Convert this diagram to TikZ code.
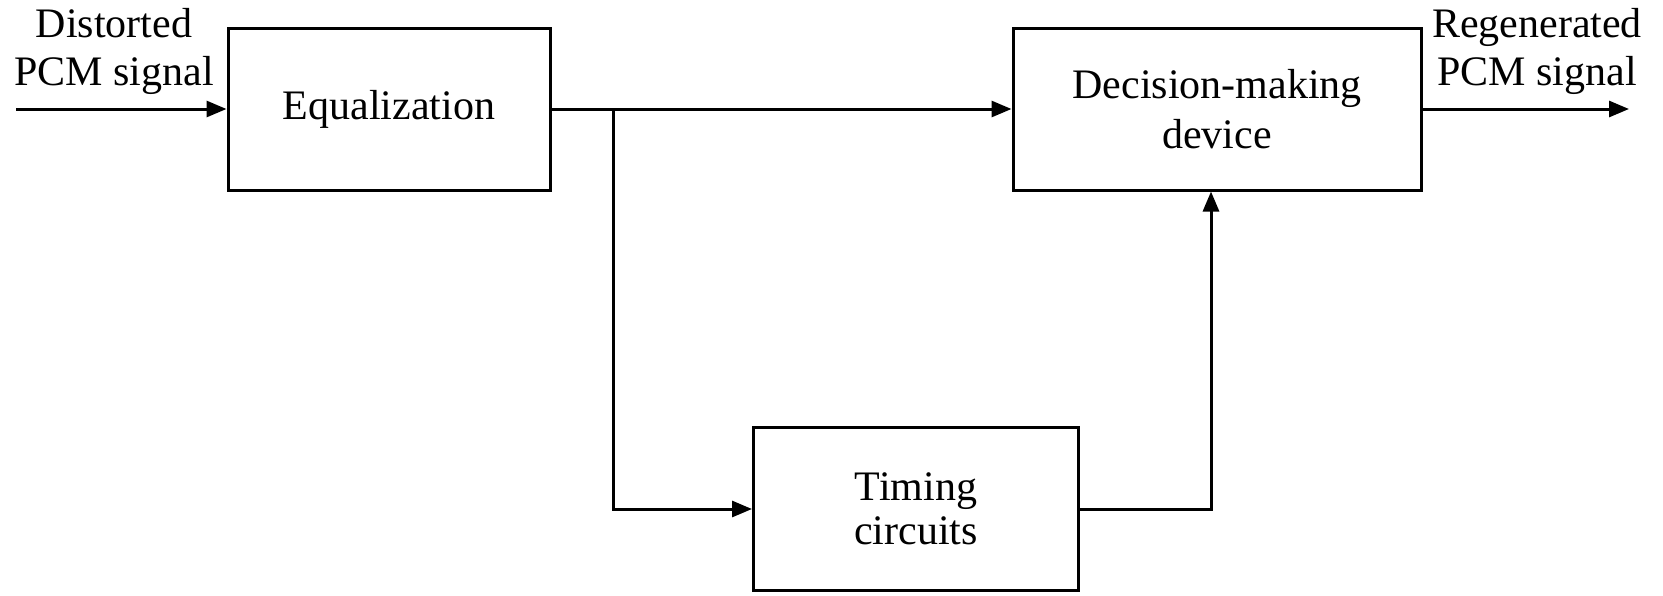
\documentclass[tikz,border=0pt]{standalone}
\usepackage{fontspec}
\setmainfont{Liberation Serif}
\usetikzlibrary{arrows.meta}
\begin{document}
\begin{tikzpicture}[x=1pt,y=-1pt,
  blockbox/.style={draw,line width=3pt,minimum width=#1,inner sep=0pt,align=center,
    font=\fontsize{42}{50}\selectfont},
  lbl/.style={inner sep=0pt,align=center,font=\fontsize{42}{48}\selectfont},
  conn/.style={line width=3pt},
  arr/.style={conn,-{Triangle[length=20pt,width=16pt]}}]
\useasboundingbox (0,0) rectangle (1663,595);
\node[blockbox=322pt,minimum height=162pt] (eq) at (389,109) {Equalization};
\node[blockbox=408pt,minimum height=162pt] (dec) at (1217,109) {Decision-making\\device};
\node[blockbox=325pt,minimum height=163pt] (tim) at (916,509) {\raisebox{-6pt}{\shortstack{Timing\\[4pt]circuits}}};
\node[lbl] (inl) at (114,51) {Distorted\\PCM signal};
\node[lbl] (outl) at (1537,51) {Regenerated\\PCM signal};
\coordinate (in) at (16,109);
\coordinate (out) at (1629,109);
\coordinate (br) at (613,109);
\draw[arr] (in) -- (eq.west);
\draw[arr] (eq.east) -- (dec.west);
\draw[arr] (br) |- (tim.west);
\draw[arr] (tim.east) -| (dec.south -| 1211,0);
\draw[arr] (dec.east) -- (out);
\end{tikzpicture}
\end{document}
